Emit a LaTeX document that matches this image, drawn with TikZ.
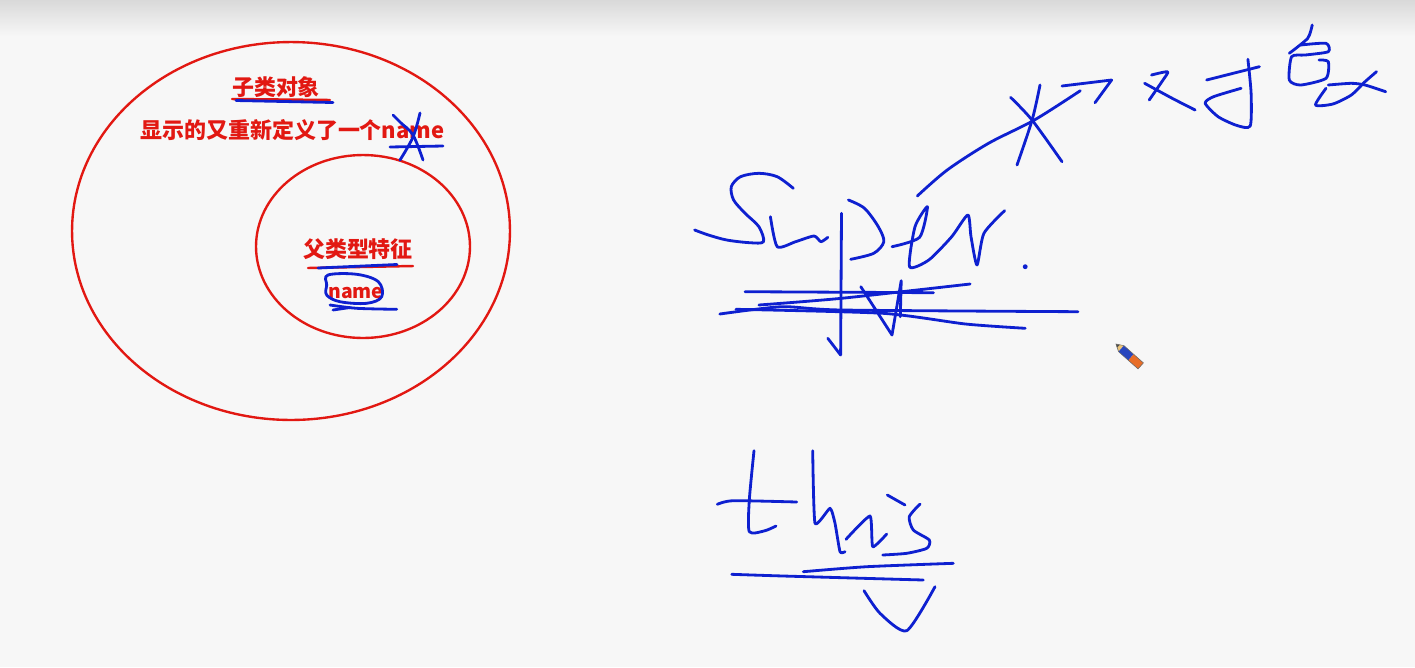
\documentclass[tikz,border=0pt]{standalone}
\usepackage{fontspec}
\newfontfamily\cjk{Noto Sans CJK SC}
\usepackage{xcolor}
\usepackage{tikz}
\definecolor{inkred}{RGB}{226, 24, 18}
\definecolor{inkblue}{RGB}{14, 32, 208}
\definecolor{boardgray}{RGB}{247, 247, 247}
\definecolor{topgray}{RGB}{217, 217, 217}
\definecolor{penwood}{RGB}{236, 196, 120}
\definecolor{penbody}{RGB}{40, 70, 190}
\definecolor{penend}{RGB}{232, 110, 40}

\begin{document}
\begin{tikzpicture}[
    x=0.02cm, y=-0.02cm,
    ring/.style={draw=inkred, line width=1.35pt},
    redtext/.style={text=inkred, inner sep=0pt, font=\cjk\bfseries\fontsize{12.5}{14}\selectfont},
    smalltext/.style={redtext, font=\cjk\bfseries\fontsize{11}{13}\selectfont},
    pen/.style={draw=inkblue, line width=1.6pt, line cap=round, line join=round},
    redpen/.style={draw=inkred, line width=1.4pt, line cap=round}
]
    \fill[boardgray] (0,0) rectangle (1415,667);
    \shade[top color=topgray, bottom color=boardgray] (0,0) rectangle (1415,36);
    \useasboundingbox (0,0) rectangle (1415,667);

    \draw[ring] (291,231) ellipse [x radius=4.38cm, y radius=3.78cm];
    \draw[ring] (363,246.5) ellipse [x radius=2.14cm, y radius=1.83cm];

    \node[redtext] (childobj) at (276,87) {子类对象};
    \node[redtext, anchor=west] (redefine) at (140,130) {显示的又重新定义了一个name};
    \node[redtext] (parentfeat) at (358,249) {父类型特征};
    \node[smalltext] (parentname) at (356,293) {name};

    \draw[redpen] (232,99) -- (330,100);
    \draw[pen] (236,100.5) -- (333,102.5);
    \draw[redpen] (308,268) -- (413,266);
    \draw[pen] (318,268) -- (397,264.5);

    \draw[pen] plot[smooth, tension=0.6] coordinates {(393,115) (401,123) (413,135) (423,160)};
    \draw[pen] plot[smooth, tension=0.6] coordinates {(420,113) (413,137) (400,160)};
    \draw[pen] (390,147) -- (443,146);

    \draw[pen] plot[smooth cycle, tension=0.6] coordinates {(328,275) (356.7,274.3) (378.3,281.7) (381.7,296.7) (366.7,303.3) (340,301.7) (326.7,295) (326.7,285)};
    \draw[pen] plot[smooth, tension=0.5] coordinates {(330,305) (356.7,308.3) (396.7,309.3)};
    \draw[pen] (333,310) -- (350,307.5);

    \draw[pen] plot[smooth, tension=0.5] coordinates {(793.3,188.3) (777.2,176.7) (758.9,173.3) (740.5,176.7) (731.3,186.7) (733.6,200) (745.1,213.3) (758.9,226.7) (763.5,241.7) (749.7,242.7) (726.7,240) (708.4,235) (694.6,230)};
    \draw[pen] plot[smooth, tension=0.4] coordinates {(770.4,216.7) (777.2,246.7) (795.6,241.7) (814,236) (820.9,241.7) (827.8,237.3)};
    \draw[pen] (841.5,213.3) -- (840.6,355) -- (827.8,338.3);
    \draw[pen] plot[smooth, tension=0.5] coordinates {(848.4,200) (864.5,208.3) (878.3,226.7) (883.8,241.7) (873.7,253.3) (850.7,259.3)};
    \draw[pen] plot[smooth, tension=0.4] coordinates {(892,246.7) (919.6,237.3) (927.4,206.7) (915,226.7) (909.5,266.7) (928.8,260) (951.7,236.7) (967.8,215) (971,236.7) (977,265) (983.9,233.3) (1004.6,210.7)};
    \fill[inkblue] (1025.2,266.7) circle (1.4pt);

    \draw[pen] (745.1,291.7) -- (933.4,292.7);
    \draw[pen] plot[smooth, tension=0.4] coordinates {(758.9,305) (841.5,298.3) (970.1,284)};
    \draw[pen] plot[smooth, tension=0.4] coordinates {(719.8,314) (781.8,306.7) (841.5,310) (1078,311.7)};
    \draw[pen] plot[smooth, tension=0.4] coordinates {(735.9,309.3) (882.9,313.3) (965.5,324) (1025.2,328.3)};
    \draw[pen] (860.8,286.7) -- (892,335) -- (901.2,280.7) -- (900.3,316.7);

    \draw[pen] plot[smooth, tension=0.5] coordinates {(917.3,196) (947.2,170) (988.5,143.3) (1034.4,120) (1080.3,90.7)};
    \draw[pen] (1062,86) -- (1111.6,80) -- (1095,102.7);
    \draw[pen] plot[smooth, tension=0.5] coordinates {(1040,85) (1032.1,120) (1017,165)};
    \draw[pen] plot[smooth, tension=0.5] coordinates {(1010.5,97.3) (1032,120) (1062,161.7)};

    \draw[pen] plot[smooth, tension=0.4] coordinates {(1151.5,75) (1167.6,71.7) (1163,80) (1149.2,100)};
    \draw[pen] plot[smooth, tension=0.4] coordinates {(1144.6,83.3) (1172.2,98.3) (1195.1,110)};
    \draw[pen] (1206.6,80) -- (1259.4,66.7);
    \draw[pen] plot[smooth, tension=0.4] coordinates {(1247.9,59.3) (1251.1,93.3) (1250.2,126) (1236.4,125.3) (1218.1,116.7) (1205.2,103.3) (1213.5,96.7) (1241.1,88.3)};
    \draw[pen] plot[smooth, tension=0.4] coordinates {(1312.2,25) (1307.7,38.3) (1289.3,53.3)};
    \draw[pen] plot[smooth, tension=0.4] coordinates {(1300.7,45) (1326,43.3) (1328.3,51.7) (1305.3,55) (1291.6,56.7) (1289.3,80) (1300.7,85) (1326,78.3) (1328.3,61.7) (1319.1,60)};
    \draw[pen] plot[smooth, tension=0.4] coordinates {(1326,88.3) (1315.5,105) (1332.9,104) (1351.3,95) (1365,81.7) (1376.5,71.7)};
    \draw[pen] plot[smooth, tension=0.4] coordinates {(1328.3,85) (1351.3,83.3) (1365,85) (1385.7,91.7)};

    \draw[pen] plot[smooth, tension=0.4] coordinates {(754,450.7) (749.3,500) (749.3,531.7) (765,530.7) (776,526)};
    \draw[pen] plot[smooth, tension=0.4] coordinates {(717.3,504.3) (733.3,500.7) (796.7,502)};
    \draw[pen] plot[smooth, tension=0.3] coordinates {(812.7,450.7) (815,523.3) (830,508.3) (835,523.3) (840,551.7) (845,551.7)};
    \draw[pen] plot[smooth, tension=0.3] coordinates {(846,539.3) (870,516) (872.7,546.7) (886.7,534)};
    \draw[pen] (887.3,495) -- (905,505);
    \draw[pen] plot[smooth, tension=0.4] coordinates {(920,504) (909.3,516.7) (913.3,530) (929.3,540) (926.7,548.3) (906.7,553.3) (882.7,555)};
    \draw[pen] plot[smooth, tension=0.4] coordinates {(731.7,574.3) (783.3,576) (923.3,580)};
    \draw[pen] plot[smooth, tension=0.4] coordinates {(803.3,571.7) (866.7,566.7) (953.3,563.3)};
    \draw[pen] plot[smooth, tension=0.4] coordinates {(864,590.7) (880,613.3) (906.7,630.7) (935,586.7)};

    \fill[penwood] (1116,344) -- (1118.5,351.6) -- (1123.9,345.6) -- cycle;
    \fill[black!70] (1116,344) -- (1117,347.5) -- (1119.5,345) -- cycle;
    \fill[penbody] (1118.5,351.6) -- (1123.9,345.6) -- (1133.6,354.3) -- (1128.3,360.3) -- cycle;
    \fill[penend] (1128.3,360.3) -- (1133.6,354.3) -- (1143.4,362.9) -- (1138,368.9) -- cycle;
    \draw[black!60, line width=0.3pt] (1116,344) -- (1118.5,351.6) -- (1138,368.9) -- (1143.4,362.9) -- (1123.9,345.6) -- cycle;
\end{tikzpicture}
\end{document}
